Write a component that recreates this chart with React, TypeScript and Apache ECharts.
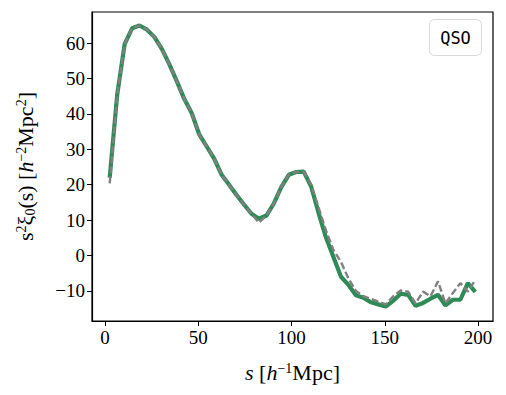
import React, { useEffect, useRef } from "react";
import * as echarts from "echarts";

const sValues: number[] = [
  2.5, 6.5, 10.5, 14.5, 18.5, 22.5, 26.5, 30.5, 34.5, 38.5,
  42.5, 46.5, 50.5, 54.5, 58.5, 62.5, 66.5, 70.5, 74.5, 78.5,
  82.5, 86.5, 90.5, 94.5, 98.5, 102.5, 106.5, 110.5, 114.5, 118.5,
  122.5, 126.5, 130.5, 134.5, 138.5, 142.5, 146.5, 150.5, 154.5, 158.5,
  162.5, 166.5, 170.5, 174.5, 178.5, 182.5, 186.5, 190.5, 194.5, 198.5,
];

const greenXi: number[] = [
  22.0, 45.4, 59.7, 64.2, 65.0, 63.8, 61.7, 58.3, 54.0, 49.2,
  44.2, 40.2, 34.2, 30.8, 27.4, 22.8, 20.0, 17.1, 14.4, 11.8,
  10.4, 11.3, 14.7, 19.3, 22.8, 23.6, 23.7, 19.5, 12.0, 5.0,
  -0.5, -6.0, -8.3, -11.2, -11.9, -13.2, -13.8, -14.4, -12.8, -10.8,
  -11.1, -14.2, -13.4, -12.2, -11.1, -14.1, -12.5, -12.5, -7.8, -10.3,
];

const grayXi: number[] = [
  20.4, 45.4, 59.7, 64.2, 65.0, 63.8, 61.7, 58.3, 54.0, 49.2,
  44.2, 40.2, 34.2, 30.8, 27.4, 22.8, 20.0, 17.1, 14.4, 11.8,
  9.3, 11.3, 14.7, 19.3, 22.8, 23.6, 23.7, 20.0, 13.5, 7.0,
  1.5, -1.8, -6.5, -10.0, -11.5, -12.2, -13.0, -13.8, -11.5, -9.9,
  -10.2, -13.5, -10.2, -11.5, -7.3, -13.5, -10.6, -7.8, -10.2, -6.9,
];

const xTicks: number[] = [0, 50, 100, 150, 200];
const yTicks: number[] = [-10, 0, 10, 20, 30, 40, 50, 60];

const SERIF = "'Liberation Serif', 'DejaVu Serif', serif";

export default function App() {
  const ref = useRef<HTMLDivElement>(null);

  useEffect(() => {
    if (!ref.current) return;
    const chart = echarts.init(ref.current, null, { renderer: "svg" });
    const fmt = (v: number) => String(v).replace("-", "\u2212");
    chart.setOption({
      animation: false,
      backgroundColor: "#ffffff",
      grid: {
        left: 92,
        right: 13,
        top: 12,
        bottom: 74,
        show: true,
        borderColor: "#000000",
        borderWidth: 1.2,
        backgroundColor: "transparent",
      },
      xAxis: {
        type: "value",
        min: -7,
        max: 208,
        splitLine: { show: false },
        axisLine: { show: true, onZero: false, lineStyle: { color: "#000", width: 1.2 } },
        axisTick: {
          show: true,
          length: 5,
          inside: false,
          customValues: xTicks,
          lineStyle: { color: "#000", width: 1 },
        },
        axisLabel: {
          customValues: xTicks,
          formatter: fmt,
          color: "#000",
          fontFamily: SERIF,
          fontSize: 19,
          margin: 7,
        },
        name: "{i|s} [{i|h}{sup|\u22121}Mpc]",
        nameLocation: "middle",
        nameGap: 40,
        nameTextStyle: {
          fontFamily: SERIF,
          fontSize: 22,
          color: "#000",
          rich: {
            i: { fontFamily: SERIF, fontStyle: "italic", fontSize: 22, color: "#000" },
            sup: { fontFamily: SERIF, fontSize: 14, color: "#000", verticalAlign: "top", padding: [0, 0, 9, 0] },
          },
        },
      },
      yAxis: {
        type: "value",
        min: -18.5,
        max: 68.8,
        splitLine: { show: false },
        axisLine: { show: true, onZero: false, lineStyle: { color: "#000", width: 1.2 } },
        axisTick: {
          show: true,
          length: 5,
          inside: false,
          customValues: yTicks,
          lineStyle: { color: "#000", width: 1 },
        },
        axisLabel: {
          customValues: yTicks,
          formatter: fmt,
          color: "#000",
          fontFamily: SERIF,
          fontSize: 19,
          margin: 7,
        },
        name: "s{sup|2}\u03be{sub|0}(s) [{i|h}{sup|\u22122}Mpc{sup|2}]",
        nameLocation: "middle",
        nameRotate: 90,
        nameGap: 55,
        nameTextStyle: {
          fontFamily: SERIF,
          fontSize: 22,
          color: "#000",
          rich: {
            i: { fontFamily: SERIF, fontStyle: "italic", fontSize: 22, color: "#000" },
            sup: { fontFamily: SERIF, fontSize: 14, color: "#000", verticalAlign: "top", padding: [0, 0, 9, 0] },
            sub: { fontFamily: SERIF, fontSize: 14, color: "#000", verticalAlign: "bottom", padding: [7, 0, 0, 0] },
          },
        },
      },
      series: [
        {
          type: "line",
          data: sValues.map((s, i) => [s, greenXi[i]]),
          showSymbol: false,
          symbol: "none",
          lineStyle: { color: "#2e8b57", width: 4.2 },
          z: 2,
        },
        {
          type: "line",
          data: sValues.map((s, i) => [s, grayXi[i]]),
          showSymbol: false,
          symbol: "none",
          lineStyle: { color: "#808080", width: 2.4, type: [7, 3] },
          z: 3,
        },
      ],
      graphic: [
        {
          type: "rect",
          shape: { x: 429.5, y: 19.5, width: 52, height: 36, r: 5 },
          style: { fill: "#ffffff", stroke: "#d9d9d9", lineWidth: 1 },
          z: 10,
        },
        {
          type: "text",
          x: 455.5,
          y: 38,
          style: {
            text: "QSO",
            fontFamily: "'DejaVu Sans Mono', monospace",
            fontSize: 17,
            fill: "#000",
            align: "center",
            verticalAlign: "middle",
          },
          z: 11,
        },
      ],
    });
    return () => chart.dispose();
  }, []);

  return (
    <div
      ref={ref}
      style={{ position: "fixed", left: 0, top: 0, width: 506, height: 395 }}
    />
  );
}
